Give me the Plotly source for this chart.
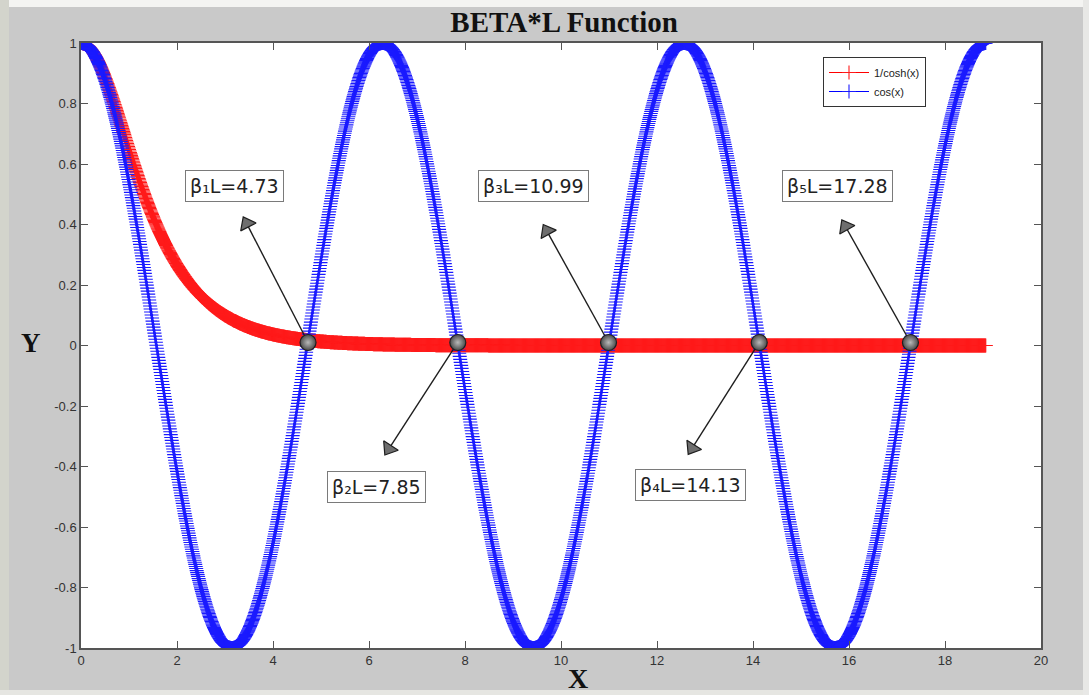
import numpy as np
import plotly.graph_objects as go

# ---- data -------------------------------------------------------------
x_end = 6 * np.pi
x_vals = np.linspace(0.0, x_end, 1886)
sech_vals = 1.0 / np.cosh(x_vals)
cos_vals = np.cos(x_vals)

root_x = [4.73, 7.85, 10.99, 14.13, 17.28]
root_y = [0.01, 0.01, 0.01, 0.01, 0.01]
root_labels = ["β₁L=4.73", "β₂L=7.85", "β₃L=10.99", "β₄L=14.13", "β₅L=17.28"]

# arrow tips and label-box centres (data units)
tip_x = [3.38, 6.33, 9.63, 12.65, 15.85]
tip_y = [0.425, -0.362, 0.40, -0.36, 0.415]
label_x = [3.19, 6.15, 9.42, 12.69, 15.77]
label_y = [0.527, -0.468, 0.527, -0.461, 0.527]

x_ticks = list(range(0, 21, 2))
y_ticks = [-1, -0.8, -0.6, -0.4, -0.2, 0, 0.2, 0.4, 0.6, 0.8, 1]
y_ticktext = ["-1", "-0.8", "-0.6", "-0.4", "-0.2", "0", "0.2", "0.4", "0.6", "0.8", "1"]

# ---- layout geometry ---------------------------------------------------
W, H = 1089, 695
M_L, M_R, M_T, M_B = 81, 48, 43, 47
plot_w = W - M_L - M_R
plot_h = H - M_T - M_B
px_per_x = plot_w / 20.0
px_per_y = plot_h / 2.0

TRI_SIZE = 15

fig = go.Figure()

fig.add_trace(go.Scatter(
    x=x_vals, y=sech_vals, name="1/cosh(x)", mode="lines+markers",
    line=dict(color="#ff0000", width=1),
    marker=dict(symbol="cross-thin", size=10, line=dict(color="#ff1a1a", width=1.1)),
))
fig.add_trace(go.Scatter(
    x=x_vals, y=cos_vals, name="cos(x)", mode="lines+markers",
    line=dict(color="#0000ff", width=1),
    marker=dict(symbol="cross-thin", size=10, line=dict(color="#1a1aff", width=1.1)),
))

# arrows: shaft from the crossing point to the triangle head
tri_cx, tri_cy, tri_ang = [], [], []
for rx, ry, tx, ty in zip(root_x, root_y, tip_x, tip_y):
    dx_px = (tx - rx) * px_per_x
    dy_px = -(ty - ry) * px_per_y
    n = np.hypot(dx_px, dy_px)
    ux, uy = dx_px / n, dy_px / n
    r = TRI_SIZE / 2.0
    # marker centre sits one radius behind the tip
    cx = tx - ux * r / px_per_x
    cy = ty + uy * r / px_per_y
    tri_cx.append(cx)
    tri_cy.append(cy)
    tri_ang.append(float(np.degrees(np.arctan2(ux, -uy))))
    bx = cx - ux * (r / 2) / px_per_x
    by = cy + uy * (r / 2) / px_per_y
    fig.add_trace(go.Scatter(
        x=[rx, bx], y=[ry, by], mode="lines", showlegend=False, hoverinfo="skip",
        line=dict(color="#1e1e1e", width=1.4),
    ))

fig.add_trace(go.Scatter(
    x=tri_cx, y=tri_cy, mode="markers", showlegend=False, hoverinfo="skip",
    marker=dict(symbol="triangle-up", size=TRI_SIZE, angle=tri_ang,
                color="#6e6e6e", line=dict(color="#1e1e1e", width=1.2)),
))

# crossing points: grey balls, lighter in the middle
fig.add_trace(go.Scatter(
    x=root_x, y=root_y, mode="markers", showlegend=False, hoverinfo="skip",
    marker=dict(symbol="circle", size=16, color="#4a4a4a",
                gradient=dict(type="radial", color="#b8b8b8"),
                line=dict(color="#202020", width=1.2)),
))

for lx, ly, txt in zip(label_x, label_y, root_labels):
    fig.add_annotation(
        x=lx, y=ly, xref="x", yref="y", text=txt, showarrow=False,
        font=dict(family="DejaVu Sans", size=19, color="#222222"),
        bgcolor="#ffffff", bordercolor="#7a7a7a", borderwidth=1, borderpad=4,
    )

# axis titles
fig.add_annotation(
    x=(578 - M_L) / plot_w, y=(H - M_B - 678) / plot_h, xref="paper", yref="paper",
    xanchor="center", yanchor="middle",
    text="<b>X</b>", showarrow=False,
    font=dict(family="Liberation Serif", size=28, color="#111111"),
)
fig.add_annotation(
    x=(31 - M_L) / plot_w, y=(H - M_B - 343) / plot_h, xref="paper", yref="paper",
    xanchor="center", yanchor="middle",
    text="<b>Y</b>", showarrow=False,
    font=dict(family="Liberation Serif", size=27, color="#111111"),
)

# light frame around the grey figure area
frame = [
    (0, 0, W, 7, "#f4f4f2"),
    (0, 0, 9, H, "#d3d4cc"),
    (0, H - 5, W, H, "#e6e6e2"),
    (W - 6, 0, W, H, "#e8e8e6"),
]
for x0, y0, x1, y1, col in frame:
    fig.add_shape(
        type="rect", xref="paper", yref="paper", layer="below",
        x0=(x0 - M_L) / plot_w, x1=(x1 - M_L) / plot_w,
        y0=(H - M_B - y1) / plot_h, y1=(H - M_B - y0) / plot_h,
        fillcolor=col, line=dict(width=0),
    )

tick_font = dict(family="Liberation Sans Narrow, Liberation Sans, Arial", size=13, color="#333333")
axis_common = dict(
    showline=True, linecolor="#555555", linewidth=1.5, mirror="ticks",
    ticks="inside", ticklen=7, tickcolor="#555555", tickwidth=1.2,
    showgrid=False, zeroline=False, tickfont=tick_font,
)

fig.update_xaxes(range=[0, 20], tickvals=x_ticks, **axis_common)
fig.update_yaxes(range=[-1, 1], tickvals=y_ticks, ticktext=y_ticktext, **axis_common)

fig.update_layout(
    width=W, height=H,
    margin=dict(l=M_L, r=M_R, t=M_T, b=M_B, pad=0),
    paper_bgcolor="#c9c9c9", plot_bgcolor="#ffffff",
    title=dict(text="<b>BETA*L Function</b>", x=0.518, xanchor="center",
               y=1 - 22 / H, yanchor="middle",
               font=dict(family="Liberation Serif", size=29, color="#111111")),
    legend=dict(
        x=(823 - M_L) / plot_w, y=1 - (57 - M_T) / plot_h, xanchor="left", yanchor="top",
        bgcolor="#ffffff", bordercolor="#333333", borderwidth=1,
        font=dict(family="Liberation Sans, Arial", size=11, color="#222222"),
        tracegroupgap=0, itemwidth=40,
    ),
    showlegend=True,
)

fig.write_html("out.html")
